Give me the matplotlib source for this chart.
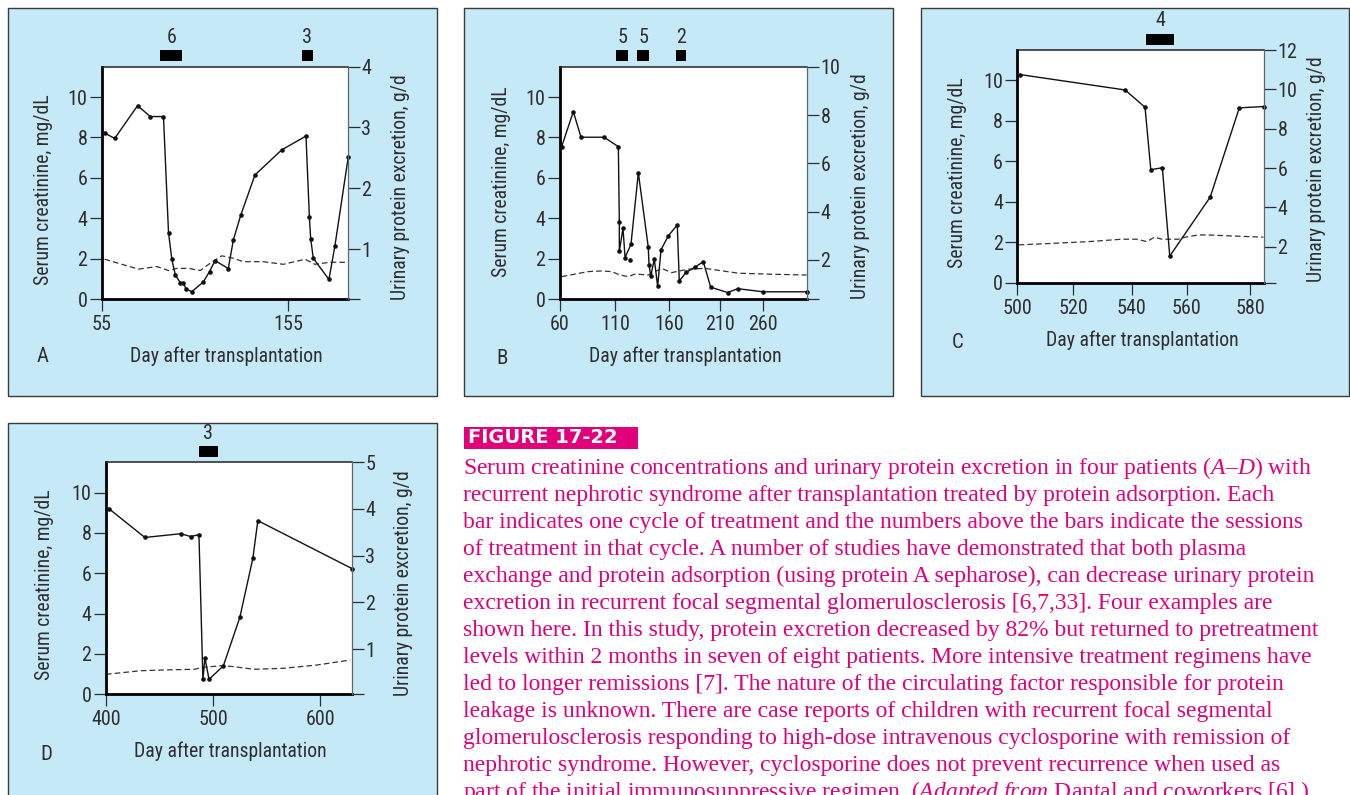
import numpy as np
import matplotlib
matplotlib.use("Agg")
import matplotlib.pyplot as plt
from matplotlib.patches import Rectangle
from matplotlib import transforms

W, H = 1350, 795

# ---- data ----
# solid line = urinary protein excretion (g/d, right axis)
# dashed line = serum creatinine (mg/dL, left axis)
# bars = treatment cycles (start day, end day, sessions)

# patient A
a_prot_day = [56.4, 61.8, 74.1, 80.9, 88.0, 90.7, 92.5, 94.4, 97.0, 98.7, 100.2, 103.2, 109.4,
              112.7, 115.7, 122.8, 125.5, 129.5, 137.1, 151.4, 164.5, 166.3, 167.0, 168.4,
              176.8, 180.0, 187.2]
a_prot = [2.91, 2.82, 3.36, 3.18, 3.18, 1.27, 0.83, 0.57, 0.45, 0.44, 0.34, 0.30, 0.46,
          0.63, 0.81, 0.68, 1.15, 1.56, 2.22, 2.63, 2.86, 1.53, 1.17, 0.85,
          0.50, 1.05, 2.52]
a_cr_day = [56.4, 74.6, 84.5, 90.7, 95.2, 101.4, 107.7, 113.0, 119.3, 125.5, 130.9, 141.6,
            152.3, 164.0, 169.3, 177.3, 186.2]
a_cr = [1.98, 1.49, 1.62, 1.42, 1.53, 1.53, 1.42, 1.78, 2.15, 2.03, 1.86, 1.86,
        1.73, 1.98, 1.73, 1.83, 1.83]
a_bar_start = [86.3, 162.1]
a_bar_end = [98.0, 168.4]
a_sessions = [6, 3]

# patient B
b_prot_day = [61.5, 72.1, 79.1, 100.0, 113.1, 114.0, 114.0, 117.4, 119.3, 124.8, 131.6, 140.8,
              141.5, 143.1, 146.4, 149.5, 152.6, 159.4, 168.1, 170.1, 176.7, 185.5, 193.6,
              200.9, 218.9, 230.4, 260.0, 310.0]
b_prot = [6.69, 8.14, 7.08, 7.08, 6.69, 3.55, 2.35, 3.31, 2.10, 2.65, 5.61, 2.53,
          1.80, 1.34, 2.03, 0.90, 2.42, 3.00, 3.45, 1.13, 1.48, 1.70, 1.93,
          0.87, 0.65, 0.81, 0.68, 0.68]
b_extra_day = [123.8]
b_extra = [2.0]
b_cr_day = [61.5, 85.7, 97.9, 107.0, 114.6, 122.3, 128.5, 140.8, 153.2, 162.6, 178.9, 195.3,
            231.2, 269.7, 310.0]
b_cr = [1.12, 1.37, 1.40, 1.37, 1.20, 1.12, 1.25, 1.20, 1.53, 1.32, 1.49, 1.53,
        1.29, 1.24, 1.20]
b_bar_start = [111.0, 130.6, 166.6]
b_bar_end = [122.2, 141.5, 176.4]
b_sessions = [5, 5, 2]

# patient C
c_prot_day = [501.0, 537.7, 544.8, 546.9, 551.1, 553.8, 567.4, 576.6, 584.5]
c_prot = [10.75, 9.97, 9.09, 5.92, 6.02, 1.53, 4.53, 9.06, 9.13]
c_cr_day = [500.4, 513.5, 525.2, 536.6, 541.8, 545.5, 548.2, 550.9, 557.0, 559.4, 563.7,
            566.8, 574.2, 584.2]
c_cr = [1.87, 1.95, 2.03, 2.15, 2.15, 2.03, 2.25, 2.15, 2.15, 2.25, 2.36,
        2.36, 2.31, 2.25]
c_bar_start = [545.2]
c_bar_end = [555.5]
c_sessions = [4]

# patient D
d_prot_day = [402.5, 436.3, 469.8, 479.1, 486.8, 490.5, 492.4, 496.2, 509.6, 525.0, 537.1,
              541.8, 630.0]
d_prot = [4.01, 3.39, 3.47, 3.41, 3.45, 0.35, 0.81, 0.35, 0.64, 1.68, 2.94, 3.75, 2.72]
d_cr_day = [400.0, 432.6, 457.4, 482.2, 491.5, 508.6, 519.4, 538.0, 566.0, 597.0, 628.0]
d_cr = [0.99, 1.17, 1.21, 1.24, 1.34, 1.42, 1.37, 1.24, 1.29, 1.45, 1.70]
d_bar_start = [486.5]
d_bar_end = [504.2]
d_sessions = [3]

caption_lines = [
    "Serum creatinine concentrations and urinary protein excretion in four patients ($\\mathit{A}$\u2013$\\mathit{D}$) with",
    "recurrent nephrotic syndrome after transplantation treated by protein adsorption. Each",
    "bar indicates one cycle of treatment and the numbers above the bars indicate the sessions",
    "of treatment in that cycle. A number of studies have demonstrated that both plasma",
    "exchange and protein adsorption (using protein A sepharose), can decrease urinary protein",
    "excretion in recurrent focal segmental glomerulosclerosis [6,7,33]. Four examples are",
    "shown here. In this study, protein excretion decreased by 82% but returned to pretreatment",
    "levels within 2 months in seven of eight patients. More intensive treatment regimens have",
    "led to longer remissions [7]. The nature of the circulating factor responsible for protein",
    "leakage is unknown. There are case reports of children with recurrent focal segmental",
    "glomerulosclerosis responding to high-dose intravenous cyclosporine with remission of",
    "nephrotic syndrome. However, cyclosporine does not prevent recurrence when used as",
    "part of the initial immunosuppressive regimen. ($\\mathit{Adapted\\ from}$ Dantal and coworkers [6].)",
]

# ---- styling ----
plt.rcParams['font.family'] = ['Roboto Condensed', 'Liberation Sans Narrow', 'Roboto', 'DejaVu Sans']
plt.rcParams['mathtext.fontset'] = 'custom'
plt.rcParams['mathtext.rm'] = 'Liberation Serif'
plt.rcParams['mathtext.it'] = 'Liberation Serif:italic'

PANEL_BG = '#c6e9f8'
MAGENTA = '#e2007a'
INK = '#2e2e2e'
TICK_FS = 14.5
LABEL_FS = 14.2

fig = plt.figure(figsize=(W / 100, H / 100), dpi=100)


def fx(x):
    return x / W


def fy(y):
    return 1 - y / H


def ftext(x, y, s, **kw):
    fig.text(fx(x), fy(y), s, **kw)


def piecewise(days, pos):
    d = np.asarray(days, float)
    p = np.asarray(pos, float)

    def interp(x, a, b):
        x = np.asarray(x, float)
        y = np.interp(x, a, b)
        y = np.where(x < a[0], b[0] + (x - a[0]) * (b[1] - b[0]) / (a[1] - a[0]), y)
        y = np.where(x > a[-1], b[-1] + (x - a[-1]) * (b[-1] - b[-2]) / (a[-1] - a[-2]), y)
        return y

    return (lambda x: interp(x, d, p)), (lambda y: interp(y, p, d))


def box(l, t, r, b):
    fig.add_artist(Rectangle((fx(l), fy(b)), (r - l) / W, (b - t) / H, transform=fig.transFigure,
                             facecolor=PANEL_BG, edgecolor='#3a3a3a', lw=1.0, zorder=-1))


def panel(rect, xlim, xticks, rlim, rticks, prot_day, prot, cr_day, cr,
          bar_start, bar_end, sessions, scale=None):
    l, t, r, b = rect
    hpx = b - t
    ax = fig.add_axes([fx(l), fy(b), (r - l) / W, hpx / H])
    ax.set_facecolor('white')
    if scale is not None:
        ax.set_xscale('function', functions=piecewise(*scale))
    ax.set_xlim(*xlim)
    ax.set_xticks(xticks)
    ax.set_ylim(0, 11.5)
    ax.set_yticks([0, 2, 4, 6, 8, 10])
    ax.plot(cr_day, cr, color='#333333', lw=0.9, ls=(0, (4.5, 2.5)))

    ax2 = ax.twinx()
    ax2.set_ylim(*rlim)
    ax2.set_yticks([rlim[0]] + list(rticks), [''] + [str(v) for v in rticks])
    ax2.plot(prot_day, prot, color='#111111', lw=1.0, marker='o', ms=2.3, clip_on=False)

    for sp in ['left', 'bottom']:
        ax.spines[sp].set_linewidth(2.0)
        ax.spines[sp].set_color('black')
    ax.spines['top'].set_linewidth(1.1)
    ax.spines['top'].set_color('#222222')
    ax.spines['right'].set_visible(False)
    for sp in ['left', 'bottom', 'top']:
        ax2.spines[sp].set_visible(False)
    ax2.spines['right'].set_linewidth(0.9)
    ax2.spines['right'].set_color('#666666')

    ax.tick_params(axis='both', direction='out', length=8.5, width=0.9, color=INK,
                   labelsize=TICK_FS, labelcolor=INK)
    ax.tick_params(axis='y', pad=2)
    ax.tick_params(axis='x', pad=3)
    ax2.tick_params(axis='y', direction='out', length=8.5, width=0.9, color=INK,
                    labelsize=TICK_FS, labelcolor=INK, pad=1)

    trans = transforms.blended_transform_factory(ax.transData, ax.transAxes)
    for s, e, n in zip(bar_start, bar_end, sessions):
        ax.add_patch(Rectangle((s, 1 + 5.5 / hpx), e - s, 11 / hpx, transform=trans,
                               facecolor='black', edgecolor='none', clip_on=False))
        ax.text((s + e) / 2, 1 + 29 / hpx, str(n), transform=trans, ha='center', va='center',
                fontsize=TICK_FS, color=INK)
    return ax, ax2


def labels(letter, letter_xy, xlab_xy, ylab_xy, rlab_xy):
    ftext(*letter_xy, letter, ha='center', va='center', fontsize=15, color=INK)
    ftext(*xlab_xy, 'Day after transplantation', ha='center', va='center', fontsize=LABEL_FS,
          color=INK)
    ftext(*ylab_xy, 'Serum creatinine, mg/dL', ha='center', va='center', rotation=90,
          fontsize=LABEL_FS, color=INK)
    ftext(*rlab_xy, 'Urinary protein excretion, g/d', ha='center', va='center', rotation=90,
          fontsize=LABEL_FS, color=INK)


# panel frames
box(7.5, 8, 436.5, 396)
box(464, 8, 893, 396)
box(921, 8, 1349, 396)
box(7.5, 423, 436.5, 800)

# A
panel((102, 66.7, 348.3, 299.3), (55, 187.2), [55, 155], (0.174, 4.0), [1, 2, 3, 4],
      a_prot_day, a_prot, a_cr_day, a_cr, a_bar_start, a_bar_end, a_sessions)
labels('A', (43, 357), (226, 356), (44, 190), (400, 187))

# B
ax_b, ax_b2 = panel((560, 66.7, 807.3, 299.3), (60, 310.8), [60, 110, 160, 210, 260],
                    (0.37, 10), [2, 4, 6, 8, 10],
                    b_prot_day, b_prot, b_cr_day, b_cr, b_bar_start, b_bar_end, b_sessions,
                    scale=([60, 110, 160, 210, 260], [560, 615, 669, 720, 763.3]))
ax_b2.plot(b_extra_day, b_extra, ls='none', marker='o', ms=2.3, color='#111111')
labels('B', (501.7, 359), (685, 356), (501.7, 182), (860, 186))

# C
panel((1017.5, 50, 1264.3, 282.7), (500, 584.5), [500, 520, 540, 560, 580],
      (0.18, 12), [2, 4, 6, 8, 10, 12],
      c_prot_day, c_prot, c_cr_day, c_cr, c_bar_start, c_bar_end, c_sessions,
      scale=([500, 520, 540, 560, 580], [1017.3, 1073.3, 1131.7, 1186.7, 1250]))
labels('C', (958, 343), (1142, 340), (957.7, 173), (1316.7, 169))

# D
panel((106, 462.3, 352.3, 694.3), (400, 630), [400, 500, 600], (0.03, 4.95), [1, 2, 3, 4, 5],
      d_prot_day, d_prot, d_cr_day, d_cr, d_bar_start, d_bar_end, d_sessions)
labels('D', (46.7, 755), (230, 751.7), (45, 585), (403.3, 583))

# caption
fig.add_artist(Rectangle((fx(464), fy(448.5)), 174 / W, 22 / H, transform=fig.transFigure,
                         facecolor=MAGENTA, edgecolor='none'))
ftext(468, 437.5, 'FIGURE 17-22', ha='left', va='center', fontsize=14, color='white',
      fontweight='bold', family='DejaVu Sans')
for i, line in enumerate(caption_lines):
    ftext(463, 474 + 27 * i, line, ha='left', va='baseline', fontsize=17, color=MAGENTA,
          family='Liberation Serif')

fig.savefig('out.png', dpi=100)
